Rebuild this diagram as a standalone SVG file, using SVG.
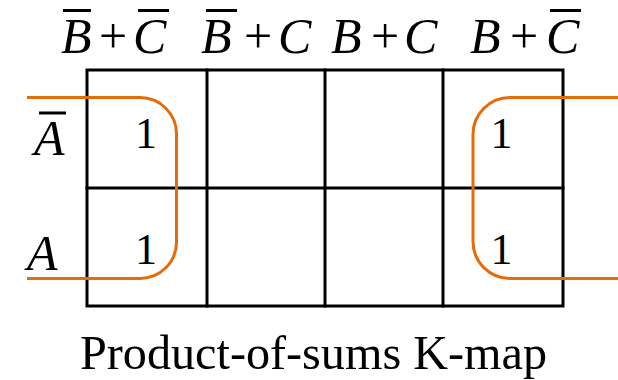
<svg xmlns="http://www.w3.org/2000/svg" width="618" height="380" viewBox="0 0 618 380">
<style>
.grid{fill:none;stroke:#000;stroke-width:3;stroke-linecap:square}
.bar{stroke:#000;stroke-width:3}
.loop{fill:none;stroke:#E46C0A;stroke-width:3}
.var{font-family:"Liberation Serif","Times New Roman",serif;font-style:italic;font-size:50px;fill:#000}
.op{font-family:"Liberation Serif","Times New Roman",serif;font-size:50px;fill:#000}
.val{font-family:"Liberation Serif","Times New Roman",serif;font-size:44px;fill:#000;text-anchor:middle}
.cap{font-family:"Liberation Serif","Times New Roman",serif;font-size:48px;fill:#000}
</style>
<rect width="618" height="380" fill="#fff"/>
<g id="grid">
<rect class="grid" x="87" y="70" width="476" height="236"/>
<line class="grid" x1="207" y1="70" x2="207" y2="306"/>
<line class="grid" x1="325" y1="70" x2="325" y2="306"/>
<line class="grid" x1="443" y1="70" x2="443" y2="306"/>
<line class="grid" x1="87" y1="188" x2="563" y2="188"/>
</g>
<g id="col-headers">
<g id="h1"><text class="var" x="61" y="53">B</text><text class="op" x="99" y="53">+</text><text class="var" x="133" y="53">C</text>
<line class="bar" x1="63" y1="10.5" x2="91" y2="10.5"/><line class="bar" x1="138" y1="10.5" x2="169" y2="10.5"/></g>
<g id="h2"><text class="var" x="201" y="53">B</text><text class="op" x="244" y="53">+</text><text class="var" x="278" y="53">C</text>
<line class="bar" x1="206" y1="10.5" x2="237" y2="10.5"/></g>
<g id="h3"><text class="var" x="331" y="53">B</text><text class="op" x="371" y="53">+</text><text class="var" x="404" y="53">C</text></g>
<g id="h4"><text class="var" x="470" y="53">B</text><text class="op" x="510" y="53">+</text><text class="var" x="546" y="53">C</text>
<line class="bar" x1="550" y1="10.5" x2="581" y2="10.5"/></g>
</g>
<g id="row-headers">
<g id="r1"><text class="var" x="34" y="155">A</text><line class="bar" x1="39" y1="113" x2="66" y2="113"/></g>
<g id="r2"><text class="var" x="27" y="270">A</text></g>
</g>
<g id="cells">
<text id="c00" class="val" x="146" y="148">1</text>
<text id="c10" class="val" x="146" y="264">1</text>
<text id="c03" class="val" x="501.5" y="148">1</text>
<text id="c13" class="val" x="501.5" y="264">1</text>
</g>
<g id="connectors">
<path class="loop" d="M27,97.5 H140 A36.5,36.5 0 0 1 176.5,134 V242 A36.5,36.5 0 0 1 140,278.5 H27"/>
<path class="loop" d="M618,97.5 H510 A37,37 0 0 0 473,134.5 V241.5 A37,37 0 0 0 510,278.5 H618"/>
</g>
<text id="caption" class="cap" x="80" y="369" textLength="467" lengthAdjust="spacingAndGlyphs">Product-of-sums K-map</text>
</svg>
